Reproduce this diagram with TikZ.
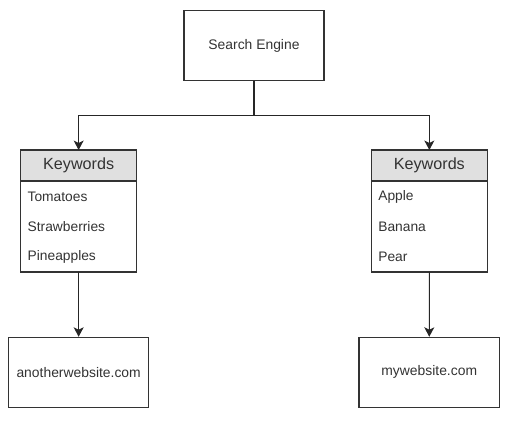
\documentclass[tikz,border=0pt]{standalone}
\usepackage{fontspec}
\setmainfont{Liberation Sans}
\usetikzlibrary{arrows.meta, positioning}

\begin{document}
\begin{tikzpicture}[
  box/.style={rectangle, draw=black!80, line width=0.6pt, minimum width=2.8cm, minimum height=1.4cm, font=\fontsize{7.9}{9}\selectfont, text=black!80},
  head/.style={rectangle, draw=black!80, line width=0.6pt, outer sep=0pt, fill=black!12, minimum width=2.33cm, minimum height=0.62cm, font=\fontsize{9.2}{11}\selectfont, text=black!80},
  body/.style={rectangle, draw=black!80, line width=0.6pt, outer sep=0pt, minimum width=2.33cm, minimum height=1.82cm},
  item/.style={anchor=west, inner sep=0pt, font=\fontsize{7.85}{9}\selectfont, text=black!80},
  line/.style={line width=0.6pt, black!85},
  arr/.style={-{Stealth[length=1.9mm, width=2mm, inset=0.5mm]}, line width=0.6pt, black!85}]
\useasboundingbox (0, 0) rectangle (10.18, -8.52);
\node[box] (engine) at (5.08, -0.91) {Search Engine};
\coordinate (split) at (5.08, -2.31);
% left keyword list
\node[head] (lhead) at (1.573, -3.31) {Keywords};
\node[body, below=0pt of lhead] (lbody) {};
\node[item] (tomato) at (0.546, -3.934) {Tomatoes};
\node[item] (straw) at (0.546, -4.534) {Strawberries};
\node[item] (pine) at (0.546, -5.134) {Pineapples};
% right keyword list
\node[head] (rhead) at (8.587, -3.31) {Keywords};
\node[body, below=0pt of rhead] (rbody) {};
\node[item] (apple) at (7.56, -3.934) {Apple};
\node[item] (banana) at (7.56, -4.534) {Banana};
\node[item] (pear) at (7.56, -5.134) {Pear};
% websites
\node[box, minimum width=2.81cm] (other) at (1.573, -7.446) {anotherwebsite.com};
\node[box, minimum width=2.81cm] (mine) at (8.585, -7.446) {mywebsite.com};
\draw[line] (engine) -- (split);
\draw[arr] (split) -| (lhead);
\draw[arr] (split) -| (rhead);
\draw[arr] (lbody) -- (other);
\draw[arr] (rbody) -- (mine);
\end{tikzpicture}
\end{document}
